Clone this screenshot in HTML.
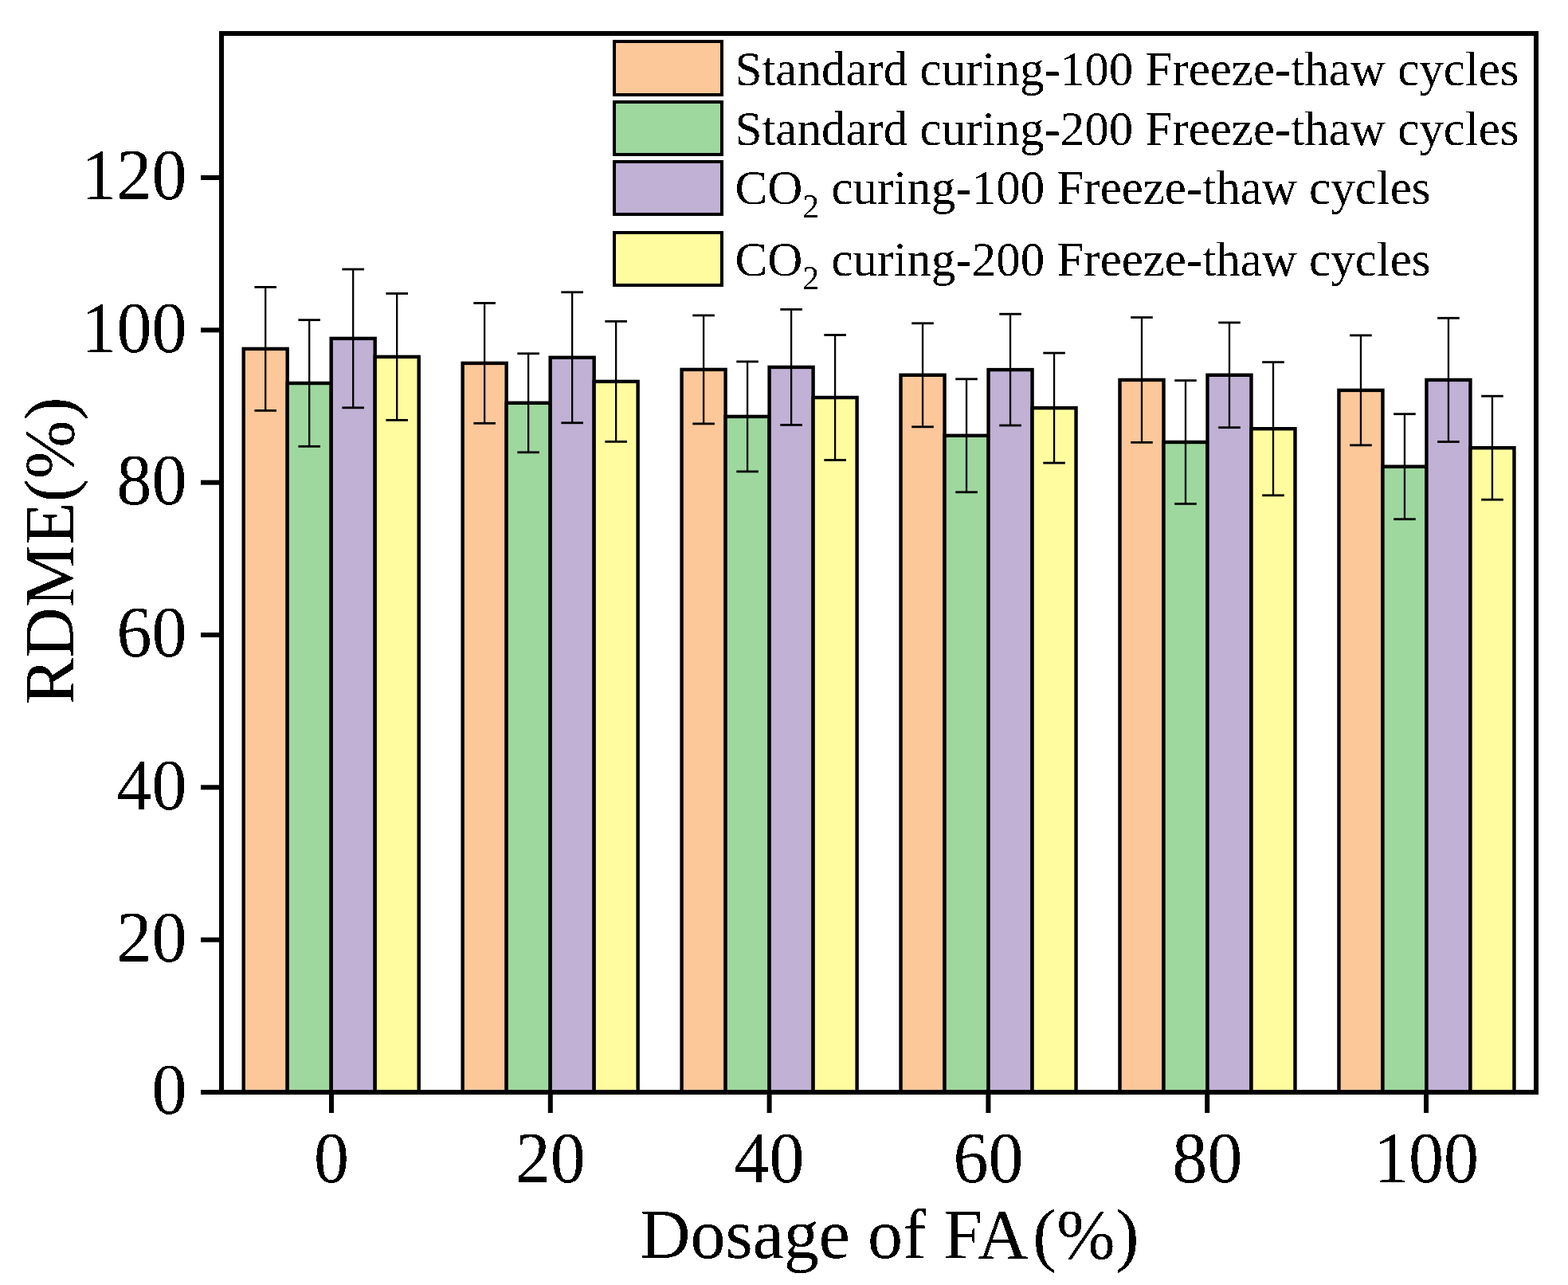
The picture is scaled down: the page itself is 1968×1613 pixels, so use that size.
<!DOCTYPE html>
<html><head><meta charset="utf-8"><title>RDME vs Dosage of FA</title>
<style>
html,body{margin:0;padding:0;background:#fff;}
body{width:1968px;height:1613px;overflow:hidden;}
svg{display:block;}
text{filter:url(#crisp);font-family:"Liberation Serif","Times New Roman",serif;fill:#000;}
.t88{font-size:88px;}
.t61{font-size:61px;}
.t90{font-size:90px;}
.sub{font-size:42px;}
</style></head>
<body>
<svg width="1968" height="1613" viewBox="0 0 1968 1613">
<defs><filter id="crisp" x="-0.1" y="-0.3" width="1.2" height="1.6"><feComponentTransfer><feFuncA type="discrete" tableValues="0 1"/></feComponentTransfer></filter></defs>
<rect width="1968" height="1613" fill="#fff"/>
<rect x="305.70" y="437.90" width="55" height="933.10" fill="#FCC799" stroke="#000" stroke-width="4.4"/>
<rect x="360.70" y="481.00" width="55" height="890.00" fill="#9ED89E" stroke="#000" stroke-width="4.4"/>
<rect x="415.70" y="424.90" width="55" height="946.10" fill="#C1B1D5" stroke="#000" stroke-width="4.4"/>
<rect x="470.70" y="447.90" width="55" height="923.10" fill="#FFFC9F" stroke="#000" stroke-width="4.4"/>
<rect x="580.65" y="455.90" width="55" height="915.10" fill="#FCC799" stroke="#000" stroke-width="4.4"/>
<rect x="635.65" y="505.80" width="55" height="865.20" fill="#9ED89E" stroke="#000" stroke-width="4.4"/>
<rect x="690.65" y="448.80" width="55" height="922.20" fill="#C1B1D5" stroke="#000" stroke-width="4.4"/>
<rect x="745.65" y="478.90" width="55" height="892.10" fill="#FFFC9F" stroke="#000" stroke-width="4.4"/>
<rect x="855.60" y="463.90" width="55" height="907.10" fill="#FCC799" stroke="#000" stroke-width="4.4"/>
<rect x="910.60" y="522.90" width="55" height="848.10" fill="#9ED89E" stroke="#000" stroke-width="4.4"/>
<rect x="965.60" y="460.90" width="55" height="910.10" fill="#C1B1D5" stroke="#000" stroke-width="4.4"/>
<rect x="1020.60" y="499.00" width="55" height="872.00" fill="#FFFC9F" stroke="#000" stroke-width="4.4"/>
<rect x="1130.55" y="470.80" width="55" height="900.20" fill="#FCC799" stroke="#000" stroke-width="4.4"/>
<rect x="1185.55" y="546.80" width="55" height="824.20" fill="#9ED89E" stroke="#000" stroke-width="4.4"/>
<rect x="1240.55" y="464.10" width="55" height="906.90" fill="#C1B1D5" stroke="#000" stroke-width="4.4"/>
<rect x="1295.55" y="512.10" width="55" height="858.90" fill="#FFFC9F" stroke="#000" stroke-width="4.4"/>
<rect x="1405.50" y="476.90" width="55" height="894.10" fill="#FCC799" stroke="#000" stroke-width="4.4"/>
<rect x="1460.50" y="555.00" width="55" height="816.00" fill="#9ED89E" stroke="#000" stroke-width="4.4"/>
<rect x="1515.50" y="470.80" width="55" height="900.20" fill="#C1B1D5" stroke="#000" stroke-width="4.4"/>
<rect x="1570.50" y="538.20" width="55" height="832.80" fill="#FFFC9F" stroke="#000" stroke-width="4.4"/>
<rect x="1680.45" y="489.90" width="55" height="881.10" fill="#FCC799" stroke="#000" stroke-width="4.4"/>
<rect x="1735.45" y="585.70" width="55" height="785.30" fill="#9ED89E" stroke="#000" stroke-width="4.4"/>
<rect x="1790.45" y="476.90" width="55" height="894.10" fill="#C1B1D5" stroke="#000" stroke-width="4.4"/>
<rect x="1845.45" y="562.20" width="55" height="808.80" fill="#FFFC9F" stroke="#000" stroke-width="4.4"/>
<line x1="333.20" y1="360.40" x2="333.20" y2="515.40" stroke="#000" stroke-width="2.3"/>
<line x1="319.40" y1="360.40" x2="347.00" y2="360.40" stroke="#000" stroke-width="2.8"/>
<line x1="319.40" y1="515.40" x2="347.00" y2="515.40" stroke="#000" stroke-width="2.8"/>
<line x1="388.20" y1="401.65" x2="388.20" y2="560.35" stroke="#000" stroke-width="2.3"/>
<line x1="374.40" y1="401.65" x2="402.00" y2="401.65" stroke="#000" stroke-width="2.8"/>
<line x1="374.40" y1="560.35" x2="402.00" y2="560.35" stroke="#000" stroke-width="2.8"/>
<line x1="443.20" y1="338.00" x2="443.20" y2="511.80" stroke="#000" stroke-width="2.3"/>
<line x1="429.40" y1="338.00" x2="457.00" y2="338.00" stroke="#000" stroke-width="2.8"/>
<line x1="429.40" y1="511.80" x2="457.00" y2="511.80" stroke="#000" stroke-width="2.8"/>
<line x1="498.20" y1="368.45" x2="498.20" y2="527.35" stroke="#000" stroke-width="2.3"/>
<line x1="484.40" y1="368.45" x2="512.00" y2="368.45" stroke="#000" stroke-width="2.8"/>
<line x1="484.40" y1="527.35" x2="512.00" y2="527.35" stroke="#000" stroke-width="2.8"/>
<line x1="608.15" y1="380.45" x2="608.15" y2="531.35" stroke="#000" stroke-width="2.3"/>
<line x1="594.35" y1="380.45" x2="621.95" y2="380.45" stroke="#000" stroke-width="2.8"/>
<line x1="594.35" y1="531.35" x2="621.95" y2="531.35" stroke="#000" stroke-width="2.8"/>
<line x1="663.15" y1="443.80" x2="663.15" y2="567.80" stroke="#000" stroke-width="2.3"/>
<line x1="649.35" y1="443.80" x2="676.95" y2="443.80" stroke="#000" stroke-width="2.8"/>
<line x1="649.35" y1="567.80" x2="676.95" y2="567.80" stroke="#000" stroke-width="2.8"/>
<line x1="718.15" y1="366.80" x2="718.15" y2="530.80" stroke="#000" stroke-width="2.3"/>
<line x1="704.35" y1="366.80" x2="731.95" y2="366.80" stroke="#000" stroke-width="2.8"/>
<line x1="704.35" y1="530.80" x2="731.95" y2="530.80" stroke="#000" stroke-width="2.8"/>
<line x1="773.15" y1="403.40" x2="773.15" y2="554.40" stroke="#000" stroke-width="2.3"/>
<line x1="759.35" y1="403.40" x2="786.95" y2="403.40" stroke="#000" stroke-width="2.8"/>
<line x1="759.35" y1="554.40" x2="786.95" y2="554.40" stroke="#000" stroke-width="2.8"/>
<line x1="883.10" y1="395.90" x2="883.10" y2="531.90" stroke="#000" stroke-width="2.3"/>
<line x1="869.30" y1="395.90" x2="896.90" y2="395.90" stroke="#000" stroke-width="2.8"/>
<line x1="869.30" y1="531.90" x2="896.90" y2="531.90" stroke="#000" stroke-width="2.8"/>
<line x1="938.10" y1="453.90" x2="938.10" y2="591.90" stroke="#000" stroke-width="2.3"/>
<line x1="924.30" y1="453.90" x2="951.90" y2="453.90" stroke="#000" stroke-width="2.8"/>
<line x1="924.30" y1="591.90" x2="951.90" y2="591.90" stroke="#000" stroke-width="2.8"/>
<line x1="993.10" y1="388.40" x2="993.10" y2="533.40" stroke="#000" stroke-width="2.3"/>
<line x1="979.30" y1="388.40" x2="1006.90" y2="388.40" stroke="#000" stroke-width="2.8"/>
<line x1="979.30" y1="533.40" x2="1006.90" y2="533.40" stroke="#000" stroke-width="2.8"/>
<line x1="1048.10" y1="420.50" x2="1048.10" y2="577.50" stroke="#000" stroke-width="2.3"/>
<line x1="1034.30" y1="420.50" x2="1061.90" y2="420.50" stroke="#000" stroke-width="2.8"/>
<line x1="1034.30" y1="577.50" x2="1061.90" y2="577.50" stroke="#000" stroke-width="2.8"/>
<line x1="1158.05" y1="405.80" x2="1158.05" y2="535.80" stroke="#000" stroke-width="2.3"/>
<line x1="1144.25" y1="405.80" x2="1171.85" y2="405.80" stroke="#000" stroke-width="2.8"/>
<line x1="1144.25" y1="535.80" x2="1171.85" y2="535.80" stroke="#000" stroke-width="2.8"/>
<line x1="1213.05" y1="475.80" x2="1213.05" y2="617.80" stroke="#000" stroke-width="2.3"/>
<line x1="1199.25" y1="475.80" x2="1226.85" y2="475.80" stroke="#000" stroke-width="2.8"/>
<line x1="1199.25" y1="617.80" x2="1226.85" y2="617.80" stroke="#000" stroke-width="2.8"/>
<line x1="1268.05" y1="394.20" x2="1268.05" y2="534.00" stroke="#000" stroke-width="2.3"/>
<line x1="1254.25" y1="394.20" x2="1281.85" y2="394.20" stroke="#000" stroke-width="2.8"/>
<line x1="1254.25" y1="534.00" x2="1281.85" y2="534.00" stroke="#000" stroke-width="2.8"/>
<line x1="1323.05" y1="443.10" x2="1323.05" y2="581.10" stroke="#000" stroke-width="2.3"/>
<line x1="1309.25" y1="443.10" x2="1336.85" y2="443.10" stroke="#000" stroke-width="2.8"/>
<line x1="1309.25" y1="581.10" x2="1336.85" y2="581.10" stroke="#000" stroke-width="2.8"/>
<line x1="1433.00" y1="398.45" x2="1433.00" y2="555.35" stroke="#000" stroke-width="2.3"/>
<line x1="1419.20" y1="398.45" x2="1446.80" y2="398.45" stroke="#000" stroke-width="2.8"/>
<line x1="1419.20" y1="555.35" x2="1446.80" y2="555.35" stroke="#000" stroke-width="2.8"/>
<line x1="1488.00" y1="477.60" x2="1488.00" y2="632.40" stroke="#000" stroke-width="2.3"/>
<line x1="1474.20" y1="477.60" x2="1501.80" y2="477.60" stroke="#000" stroke-width="2.8"/>
<line x1="1474.20" y1="632.40" x2="1501.80" y2="632.40" stroke="#000" stroke-width="2.8"/>
<line x1="1543.00" y1="404.95" x2="1543.00" y2="536.65" stroke="#000" stroke-width="2.3"/>
<line x1="1529.20" y1="404.95" x2="1556.80" y2="404.95" stroke="#000" stroke-width="2.8"/>
<line x1="1529.20" y1="536.65" x2="1556.80" y2="536.65" stroke="#000" stroke-width="2.8"/>
<line x1="1598.00" y1="454.60" x2="1598.00" y2="621.80" stroke="#000" stroke-width="2.3"/>
<line x1="1584.20" y1="454.60" x2="1611.80" y2="454.60" stroke="#000" stroke-width="2.8"/>
<line x1="1584.20" y1="621.80" x2="1611.80" y2="621.80" stroke="#000" stroke-width="2.8"/>
<line x1="1707.95" y1="420.95" x2="1707.95" y2="558.85" stroke="#000" stroke-width="2.3"/>
<line x1="1694.15" y1="420.95" x2="1721.75" y2="420.95" stroke="#000" stroke-width="2.8"/>
<line x1="1694.15" y1="558.85" x2="1721.75" y2="558.85" stroke="#000" stroke-width="2.8"/>
<line x1="1762.95" y1="519.70" x2="1762.95" y2="651.70" stroke="#000" stroke-width="2.3"/>
<line x1="1749.15" y1="519.70" x2="1776.75" y2="519.70" stroke="#000" stroke-width="2.8"/>
<line x1="1749.15" y1="651.70" x2="1776.75" y2="651.70" stroke="#000" stroke-width="2.8"/>
<line x1="1817.95" y1="399.25" x2="1817.95" y2="554.55" stroke="#000" stroke-width="2.3"/>
<line x1="1804.15" y1="399.25" x2="1831.75" y2="399.25" stroke="#000" stroke-width="2.8"/>
<line x1="1804.15" y1="554.55" x2="1831.75" y2="554.55" stroke="#000" stroke-width="2.8"/>
<line x1="1872.95" y1="497.20" x2="1872.95" y2="627.20" stroke="#000" stroke-width="2.3"/>
<line x1="1859.15" y1="497.20" x2="1886.75" y2="497.20" stroke="#000" stroke-width="2.8"/>
<line x1="1859.15" y1="627.20" x2="1886.75" y2="627.20" stroke="#000" stroke-width="2.8"/>
<rect x="278" y="42" width="1650" height="1329" fill="none" stroke="#000" stroke-width="6"/>
<line x1="252" y1="1371.00" x2="278" y2="1371.00" stroke="#000" stroke-width="6"/>
<text transform="translate(234.5 1398.30) scale(0.978 1)" class="t90" text-anchor="end">0</text>
<line x1="252" y1="1179.67" x2="278" y2="1179.67" stroke="#000" stroke-width="6"/>
<text transform="translate(234.5 1206.97) scale(0.978 1)" class="t90" text-anchor="end">20</text>
<line x1="252" y1="988.33" x2="278" y2="988.33" stroke="#000" stroke-width="6"/>
<text transform="translate(234.5 1015.63) scale(0.978 1)" class="t90" text-anchor="end">40</text>
<line x1="252" y1="797.00" x2="278" y2="797.00" stroke="#000" stroke-width="6"/>
<text transform="translate(234.5 824.30) scale(0.978 1)" class="t90" text-anchor="end">60</text>
<line x1="252" y1="605.66" x2="278" y2="605.66" stroke="#000" stroke-width="6"/>
<text transform="translate(234.5 632.96) scale(0.978 1)" class="t90" text-anchor="end">80</text>
<line x1="252" y1="414.33" x2="278" y2="414.33" stroke="#000" stroke-width="6"/>
<text transform="translate(234.5 441.63) scale(0.978 1)" class="t90" text-anchor="end">100</text>
<line x1="252" y1="223.00" x2="278" y2="223.00" stroke="#000" stroke-width="6"/>
<text transform="translate(234.5 250.30) scale(0.978 1)" class="t90" text-anchor="end">120</text>
<line x1="416.00" y1="1371" x2="416.00" y2="1397" stroke="#000" stroke-width="6"/>
<text transform="translate(416.00 1483.5) scale(0.978 1)" class="t90" text-anchor="middle">0</text>
<line x1="690.80" y1="1371" x2="690.80" y2="1397" stroke="#000" stroke-width="6"/>
<text transform="translate(690.80 1483.5) scale(0.978 1)" class="t90" text-anchor="middle">20</text>
<line x1="965.60" y1="1371" x2="965.60" y2="1397" stroke="#000" stroke-width="6"/>
<text transform="translate(965.60 1483.5) scale(0.978 1)" class="t90" text-anchor="middle">40</text>
<line x1="1240.40" y1="1371" x2="1240.40" y2="1397" stroke="#000" stroke-width="6"/>
<text transform="translate(1240.40 1483.5) scale(0.978 1)" class="t90" text-anchor="middle">60</text>
<line x1="1515.20" y1="1371" x2="1515.20" y2="1397" stroke="#000" stroke-width="6"/>
<text transform="translate(1515.20 1483.5) scale(0.978 1)" class="t90" text-anchor="middle">80</text>
<line x1="1790.00" y1="1371" x2="1790.00" y2="1397" stroke="#000" stroke-width="6"/>
<text transform="translate(1790.00 1483.5) scale(0.978 1)" class="t90" text-anchor="middle">100</text>
<text x="803" y="1579" class="t88">Dosage of FA<tspan dx="6">(</tspan><tspan dx="0.7">%</tspan><tspan dx="0.8">)</tspan></text>
<text transform="translate(91.6 884.5) rotate(-90)" class="t88">RDME(%)</text>
<rect x="771" y="52" width="135" height="67" fill="#FCC799" stroke="#000" stroke-width="4"/>
<text x="922.5" y="106.5" class="t61">Standard curing-100 Freeze-thaw cycles</text>
<rect x="771" y="128" width="135" height="66" fill="#9ED89E" stroke="#000" stroke-width="4"/>
<text x="922.5" y="181.5" class="t61">Standard curing-200 Freeze-thaw cycles</text>
<rect x="771" y="203" width="135" height="66" fill="#C1B1D5" stroke="#000" stroke-width="4"/>
<text x="922.5" y="256" class="t61">CO<tspan class="sub" dy="17">2</tspan><tspan dy="-17"> curing-100 Freeze-thaw cycles</tspan></text>
<rect x="771" y="292" width="135" height="66" fill="#FFFC9F" stroke="#000" stroke-width="4"/>
<text x="922.5" y="346" class="t61">CO<tspan class="sub" dy="17">2</tspan><tspan dy="-17"> curing-200 Freeze-thaw cycles</tspan></text>
</svg>
</body></html>
